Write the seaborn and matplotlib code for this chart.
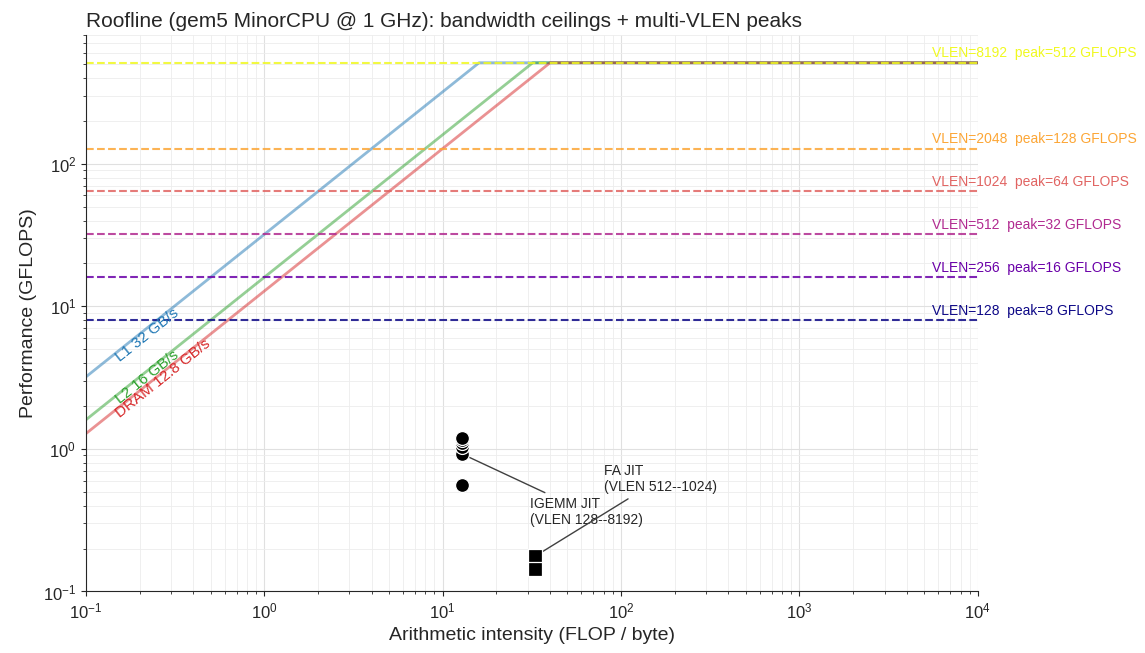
import numpy as np
import pandas as pd
import seaborn as sns
import matplotlib
matplotlib.use("Agg")
import matplotlib.pyplot as plt

# peak ceilings per VLEN
vlens = [128, 256, 512, 1024, 2048, 8192]
peaks = [8, 16, 32, 64, 128, 512]

# bandwidth ceilings (GB/s)
bw_names = ["L1", "L2", "DRAM"]
bw_values = [32, 16, 12.8]
bw_colors = ["tab:blue", "tab:green", "tab:red"]

# measured kernels
igemm_ai = [12.9, 12.9, 12.9, 12.9, 12.9, 12.9]
igemm_perf = [0.56, 0.92, 1.03, 1.10, 1.16, 1.19]
fa_ai = [33, 33]
fa_perf = [0.177, 0.144]

sns.set_style("ticks")
plt.rcParams['font.family'] = ['Liberation Sans', 'DejaVu Sans']

fig = plt.figure(figsize=(11.45, 6.53), dpi=100)
ax = fig.add_axes([0.075, 0.0942, 0.779, 0.852])
ax.set_xscale("log")
ax.set_yscale("log")
ax.set_xlim(0.1, 1e4)
ax.set_ylim(0.1, 800)

top = max(peaks)
for name, bw, c in zip(bw_names, bw_values, bw_colors):
    ai = [0.1, top / bw, 1e4]
    df = pd.DataFrame({"ai": ai, "perf": [min(bw * a, top) for a in ai]})
    sns.lineplot(data=df, x="ai", y="perf", ax=ax, color=c, alpha=0.5, lw=2, legend=False)

pal = plt.cm.plasma(np.linspace(0, 1, len(vlens)))
for v, p, c in zip(vlens, peaks, pal):
    ax.axhline(p, color=c, ls="--", lw=1.5, alpha=0.85)
    ax.text(5500, p * 1.04, f"VLEN={v}  peak={p} GFLOPS", color=c, fontsize=10,
            ha="left", va="bottom", clip_on=False)

# rotation of bandwidth labels in screen space
p0 = ax.transData.transform((1, 1))
p1 = ax.transData.transform((10, 10))
ang = np.degrees(np.arctan2(p1[1] - p0[1], p1[0] - p0[0]))
label_x = [0.22, 0.22, 0.27]
for name, bw, c, lx in zip(bw_names, bw_values, bw_colors, label_x):
    ax.text(lx, bw * lx * 0.9, f"{name} {bw:g} GB/s", color=c, fontsize=11,
            rotation=ang, ha="center", va="center", rotation_mode="anchor")

sns.scatterplot(x=igemm_ai, y=igemm_perf, ax=ax, marker="o", s=100, color="black",
                edgecolor="white", linewidth=0.9, zorder=5)
sns.scatterplot(x=fa_ai, y=fa_perf, ax=ax, marker="s", s=100, color="black",
                edgecolor="white", linewidth=0.9, zorder=5)

ax.annotate("IGEMM JIT\n(VLEN 128--8192)", xy=(12.9, 0.92), xytext=(31, 0.36),
            fontsize=10, va="center", arrowprops=dict(arrowstyle="-", color="0.25", lw=1))
ax.annotate("FA JIT\n(VLEN 512--1024)", xy=(33, 0.177), xytext=(80, 0.615),
            fontsize=10, va="center", arrowprops=dict(arrowstyle="-", color="0.25", lw=1))

ax.grid(which="major", color="0.88", lw=0.8)
ax.grid(which="minor", color="0.93", lw=0.6)
sns.despine(ax=ax)
ax.tick_params(labelsize=12)
ax.set_xlabel("Arithmetic intensity (FLOP / byte)", fontsize=14)
ax.set_ylabel("Performance (GFLOPS)", fontsize=14)
ax.set_title("Roofline (gem5 MinorCPU @ 1 GHz): bandwidth ceilings + multi-VLEN peaks",
             fontsize=15, loc="left")

fig.savefig("out.png", dpi=100)
